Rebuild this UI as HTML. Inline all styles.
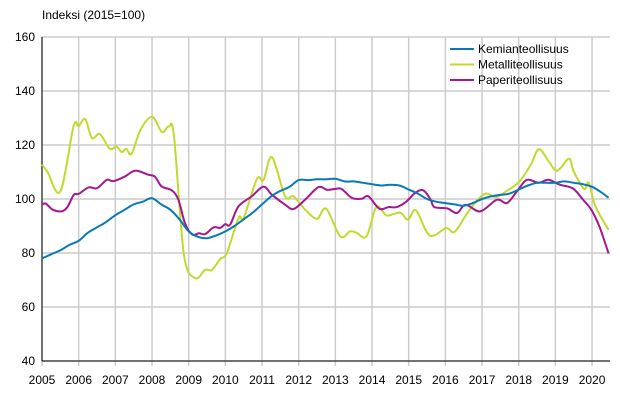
<!DOCTYPE html>
<html><head><meta charset="utf-8"><style>
body{margin:0;background:#fff;font-family:"Liberation Sans",sans-serif}
svg text{font-family:"Liberation Sans",sans-serif;font-size:12px;fill:#000}
</style></head><body>
<svg id="chart" width="620" height="400"></svg>
<script>
const yearTicks=[2005,2006,2007,2008,2009,2010,2011,2012,2013,2014,2015,2016,2017,2018,2019,2020];
const yTicks=[40,60,80,100,120,140,160];
const kemX=[2005,2005.25,2005.5,2005.75,2006,2006.25,2006.5,2006.75,2007,2007.25,2007.5,2007.75,2008,2008.25,2008.5,2008.75,2009,2009.25,2009.5,2009.75,2010,2010.25,2010.5,2010.75,2011,2011.25,2011.5,2011.75,2012,2012.25,2012.5,2012.75,2013,2013.25,2013.5,2013.75,2014,2014.25,2014.5,2014.75,2015,2015.25,2015.5,2015.75,2016,2016.25,2016.5,2016.75,2017,2017.25,2017.5,2017.75,2018,2018.25,2018.5,2018.75,2019,2019.25,2019.5,2019.75,2020,2020.25,2020.45];
const kemY=[78,79.5,81,83,84.5,87.5,89.5,91.5,94,96,98,99,100.3,98,96,92.5,88,86,85.5,86.5,88,90,92.5,95,98,101,103,104.5,107,107,107.3,107.3,107.5,106.5,106.5,106,105.5,105,105.3,105,103.5,102,100,99,98.5,98,97.5,98.5,100,101,101.5,102,103.5,105,106,106,106,106.5,106,105.5,104.5,102.5,100.5];
const metX=[2005,2005.15,2005.5,2005.86,2006.0,2006.18,2006.36,2006.58,2006.85,2007.03,2007.17,2007.3,2007.44,2007.69,2008.0,2008.27,2008.46,2008.6,2008.87,2009.18,2009.45,2009.63,2009.86,2010.04,2010.36,2010.5,2010.86,2011.04,2011.27,2011.63,2011.86,2012.18,2012.5,2012.75,2013.13,2013.4,2013.58,2013.85,2014.12,2014.4,2014.76,2014.98,2015.2,2015.57,2016.02,2016.25,2016.57,2016.84,2017.1,2017.38,2017.65,2018.01,2018.33,2018.55,2018.82,2019.05,2019.37,2019.5,2019.78,2019.91,2020.09,2020.45];
const metY=[112.7,110,102.8,126.9,127,129.6,122.6,124,118.6,119.5,117.4,118.6,116.7,125.7,130.4,124.8,126.9,123.2,79.4,70.7,73.8,73.7,77.8,80,93,93,107.4,107,115.5,101,101,96,92.7,96.4,86.2,88,87.5,86.2,97,93.9,95,92.3,95.8,86.5,89.2,87.8,94.2,99.1,102,100.7,102.8,106.3,112.7,118.5,113.9,110.5,114.9,110.2,103.7,106,97.3,88.6];
const papX=[2005,2005.1,2005.3,2005.55,2005.7,2005.87,2006.0,2006.27,2006.5,2006.77,2006.95,2007.27,2007.54,2007.9,2008.08,2008.26,2008.54,2008.72,2008.9,2009.1,2009.28,2009.45,2009.68,2009.86,2010.0,2010.13,2010.36,2010.72,2011.04,2011.27,2011.63,2011.86,2012.18,2012.54,2012.77,2012.99,2013.17,2013.45,2013.72,2013.9,2014.2,2014.45,2014.67,2014.94,2015.17,2015.4,2015.6,2015.7,2016.05,2016.32,2016.55,2016.95,2017.4,2017.68,2017.95,2018.22,2018.54,2018.81,2019.12,2019.48,2019.75,2019.98,2020.2,2020.45];
const papY=[97.9,98.3,96,95.5,97.2,101.6,101.9,104.3,104,107.1,106.6,108.4,110.5,109,108.3,104.7,103.2,99.7,91,86.8,87.3,87,89.5,89.3,90.7,90.5,97.3,101,104.6,101.6,97.9,96.3,99.8,104.4,103.4,103.7,103.7,100.4,100.1,101,96.4,97,97,99.1,102.2,103.2,99.7,97,96.5,94.8,97.9,95.4,99.7,98.5,102.8,107.1,106,107.1,105.3,103.9,99.8,96,89.8,79.8];
const seriesNames=["Kemianteollisuus","Metalliteollisuus","Paperiteollisuus"];
const colors=["#0a78b4","#c4d92e","#a3178f"];
const L=42,R=610,T=37,B=361;
function xs(y){return L+(y-2005)*36.67;}
function ys(v){return B-(v-40)*(B-T)/120;}
const svg=document.getElementById('chart');
const NS="http://www.w3.org/2000/svg";
function el(t,a){const e=document.createElementNS(NS,t);for(const k in a)e.setAttribute(k,a[k]);svg.appendChild(e);return e;}
function smooth(P){
 let d='M'+P[0][0].toFixed(1)+','+P[0][1].toFixed(1);
 for(let i=0;i<P.length-1;i++){
  const p0=P[Math.max(0,i-1)],p1=P[i],p2=P[i+1],p3=P[Math.min(P.length-1,i+2)];
  const c1x=p1[0]+(p2[0]-p0[0])/6,c1y=p1[1]+(p2[1]-p0[1])/6;
  const c2x=p2[0]-(p3[0]-p1[0])/6,c2y=p2[1]-(p3[1]-p1[1])/6;
  d+=' C'+c1x.toFixed(1)+','+c1y.toFixed(1)+' '+c2x.toFixed(1)+','+c2y.toFixed(1)+' '+p2[0].toFixed(1)+','+p2[1].toFixed(1);
 }
 return d;
}
yTicks.forEach(v=>{
 const g=el('line',{x1:L,x2:R,y1:ys(v),y2:ys(v),stroke:'#cccccc','stroke-width':1.5});
 
 
 const t=el('text',{x:35,y:ys(v)+4,'text-anchor':'end'});t.textContent=v;
 
 
});
yearTicks.forEach(y=>{
 const g=el('line',{x1:xs(y),x2:xs(y),y1:T,y2:B+5,stroke:'#cccccc','stroke-width':1.5});
 
 
 const t=el('text',{x:xs(y),y:384,'text-anchor':'middle'});t.textContent=y;
 
 
});
const ax=el('line',{x1:L,x2:L,y1:T,y2:B,stroke:'#000','stroke-width':1});


const bx=el('line',{x1:L,x2:R,y1:B,y2:B,stroke:'#000','stroke-width':1});


const tt=el('text',{x:42,y:19});tt.textContent="Indeksi (2015=100)";


const data=[[kemX,kemY],[metX,metY],[papX,papY]];
[1,2,0].forEach(i=>{
 const [X,Y]=data[i];
 const pts=X.map((x,j)=>[xs(x),ys(Y[j])]);
 const p=el('path',{d:smooth(pts),fill:'none',stroke:colors[i],'stroke-width':2,'stroke-linejoin':'round'});
 
 
});
seriesNames.forEach((n,i)=>{
 const y=49+i*15.5;
 const l=el('line',{x1:450,x2:474,y1:y,y2:y,stroke:colors[i],'stroke-width':2});
 
 
 const t=el('text',{x:478,y:y+4});t.textContent=n;
 
 
});
</script>
</body></html>
